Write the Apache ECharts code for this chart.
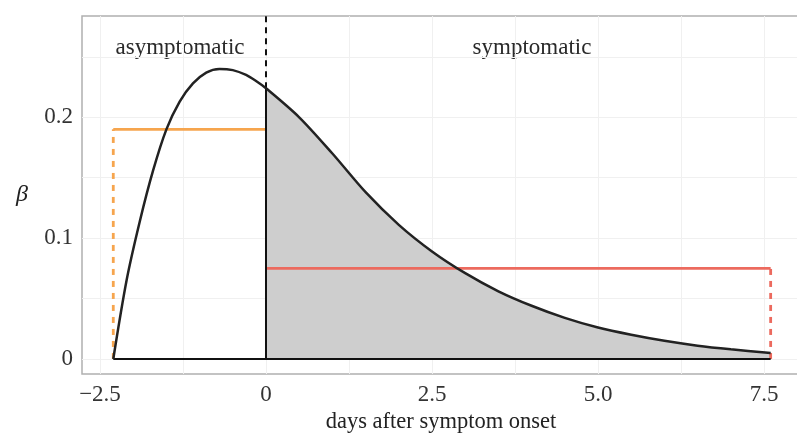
<!DOCTYPE html>
<html>
<head>
<meta charset="utf-8">
<script src="https://cdn.jsdelivr.net/npm/echarts@6/dist/echarts.min.js"></script>
<style>
  html, body { margin: 0; padding: 0; background: #fff; }
  #chart { width: 797px; height: 433px; }
</style>
</head>
<body>
<div id="chart"></div>
<script>
// curve (days, beta)
var curveX = [-2.3, -2.1, -1.9, -1.7, -1.5, -1.3, -1.1, -0.9, -0.7, -0.5, -0.3, -0.15, 0,
    0.5, 1.0, 1.5, 2.0, 2.5, 3.0, 3.5, 4.0, 4.5, 5.0, 5.5, 6.0, 6.5, 7.0, 7.6]
var curveY = [0, 0.065, 0.114, 0.156, 0.19, 0.213, 0.228, 0.237, 0.240, 0.239, 0.235, 0.230, 0.224,
    0.200, 0.170, 0.138, 0.111, 0.089, 0.071, 0.056, 0.044, 0.034, 0.026, 0.020, 0.015, 0.011, 0.008, 0.005]

var startX = -2.3
var onsetX = 0
var endX = 7.6
var asymLevel = 0.19
var sympLevel = 0.075

var xTicks = [-2.5, 0, 2.5, 5, 7.5]
var xTickLabels = ['\u22122.5', '0', '2.5', '5.0', '7.5']
var yTicks = [0, 0.1, 0.2]
var yTickLabels = ['0', '0.1', '0.2']
var xGrid = [-2.5, -1.25, 0, 1.25, 2.5, 3.75, 5, 6.25, 7.5]
var yGrid = [0, 0.05, 0.1, 0.15, 0.2, 0.25]

var font = 'Liberation Serif'
var yTop = 0.2838

var curve = curveX.map(function (x, i) { return [x, curveY[i]] })
var symp = curve.filter(function (p) { return p[0] >= onsetX })
var onsetY = curveY[curveX.indexOf(onsetX)]

var chart = echarts.init(document.getElementById('chart'))

var gridLines = []
xGrid.forEach(function (x) { gridLines.push({ xAxis: x }) })
yGrid.forEach(function (y) { gridLines.push({ yAxis: y }) })

// plain line segment helper
var seg = function (pts, color, width, dash) {
    return {
        type: 'line', data: pts, showSymbol: false, z: 4,
        lineStyle: { color: color, width: width, type: dash || 'solid' }
    }
}

chart.setOption({
    animation: false,
    grid: {
        left: 82, top: 16, right: -3, bottom: 59, outerBoundsMode: 'none',
        show: true, borderColor: '#b0b0b0', borderWidth: 1.5
    },
    xAxis: {
        type: 'value', min: -2.771, max: 8.042,
        name: 'days after symptom onset', nameLocation: 'middle', nameGap: 33,
        nameTextStyle: { fontFamily: font, fontSize: 22.5, color: '#222' },
        axisLine: { show: false },
        splitLine: { show: false },
        axisTick: { show: true, customValues: xTicks, length: 5, lineStyle: { color: '#333' } },
        axisLabel: {
            customValues: xTicks, fontFamily: font, fontSize: 23, color: '#333', margin: 9,
            formatter: function (v) { return xTickLabels[xTicks.indexOf(v)] }
        }
    },
    yAxis: {
        type: 'value', min: -0.01245, max: yTop,
        name: '\u03b2', nameLocation: 'middle', nameGap: 54, nameRotate: 0,
        nameTextStyle: { fontFamily: font, fontSize: 24, fontStyle: 'italic', color: '#222' },
        axisLine: { show: false },
        splitLine: { show: false },
        axisTick: { show: true, customValues: yTicks, length: 5, lineStyle: { color: '#333' } },
        axisLabel: {
            customValues: yTicks, fontFamily: font, fontSize: 23, color: '#333', margin: 9,
            formatter: function (v) { return yTickLabels[yTicks.indexOf(v)] }
        }
    },
    graphic: [
        { type: 'text', style: { text: 'asymptomatic', x: 180, y: 48, fontFamily: font, fontSize: 23, fill: '#2a2a2a', align: 'center', verticalAlign: 'middle' } },
        { type: 'text', style: { text: 'symptomatic', x: 532, y: 48, fontFamily: font, fontSize: 23, fill: '#2a2a2a', align: 'center', verticalAlign: 'middle' } }
    ],
    series: [
        {
            type: 'line', data: [], silent: true, z: 1,
            markLine: { silent: true, z: 1, symbol: 'none', label: { show: false }, lineStyle: { color: '#f0f0f0', type: 'solid', width: 1 }, data: gridLines }
        },
        {
            type: 'line', data: symp, smooth: 0.3, showSymbol: false, silent: true, z: 2,
            lineStyle: { width: 0 }, areaStyle: { color: '#cecece', opacity: 1 }
        },
        seg([[startX, 0], [startX, asymLevel]], '#f6a54e', 2.8, [6, 6]),
        seg([[startX, asymLevel], [onsetX, asymLevel]], '#f6a54e', 2.8),
        seg([[endX, 0], [endX, sympLevel]], '#ec6a5e', 2.8, [6, 6]),
        seg([[onsetX, sympLevel], [endX, sympLevel]], '#ec6a5e', 2.8),
        seg([[startX, 0], [endX, 0]], '#111', 2),
        seg([[onsetX, 0], [onsetX, onsetY]], '#111', 2),
        seg([[onsetX, onsetY], [onsetX, yTop]], '#111', 2, [6, 5]),
        {
            type: 'line', data: curve, smooth: 0.3, showSymbol: false, z: 5,
            lineStyle: { color: '#222', width: 2.5 }
        }
    ]
})
</script>
</body>
</html>
